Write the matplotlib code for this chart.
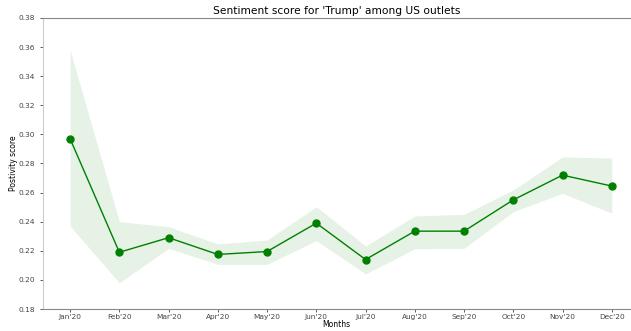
import matplotlib
matplotlib.use("Agg")
import matplotlib.pyplot as plt

months = ["Jan'20", "Feb'20", "Mar'20", "Apr'20", "May'20", "Jun'20",
          "Jul'20", "Aug'20", "Sep'20", "Oct'20", "Nov'20", "Dec'20"]
score = [0.297, 0.219, 0.229, 0.2175, 0.2195, 0.239,
         0.214, 0.2335, 0.2335, 0.255, 0.272, 0.2645]
upper = [0.358, 0.240, 0.2366, 0.2247, 0.2274, 0.2503,
         0.2233, 0.2439, 0.2451, 0.2618, 0.2845, 0.2838]
lower = [0.237, 0.198, 0.2217, 0.2107, 0.2107, 0.2270,
         0.2041, 0.2214, 0.2217, 0.2469, 0.2595, 0.2458]

fig = plt.figure(figsize=(6.31, 3.31), dpi=100)
ax = fig.add_axes([43 / 631, 22 / 331, 587 / 631, 291 / 331])

x = list(range(len(months)))
ax.fill_between(x, lower, upper, color="green", alpha=0.1, linewidth=0)
ax.plot(x, score, color="green", linewidth=1.0, marker="o", markersize=5)

ax.set_xlim(-0.55, 11.37)
ax.set_ylim(0.18, 0.38)
ax.set_yticks([0.18 + 0.02 * i for i in range(11)])
ax.set_yticklabels([f"{0.18 + 0.02 * i:.2f}" for i in range(11)])
ax.set_xticks(x)
ax.set_xticklabels(months)

ax.tick_params(labelsize=5.3, colors="#444444", length=2, width=0.6)
ax.tick_params(axis="x", pad=1.5)
for side in ["left", "top", "bottom"]:
    ax.spines[side].set_color("#888888")
    ax.spines[side].set_linewidth(0.8)
ax.spines["left"].set_color("#cccccc")
ax.spines["right"].set_visible(False)

ax.set_title("Sentiment score for 'Trump' among US outlets", fontsize=7.7, pad=3)
ax.set_xlabel("Months", fontsize=5.5, labelpad=0)
ax.set_ylabel("Postivity score", fontsize=5.5)
ax.yaxis.set_label_coords(-0.042, 0.5)

fig.savefig("out.png", dpi=100)
